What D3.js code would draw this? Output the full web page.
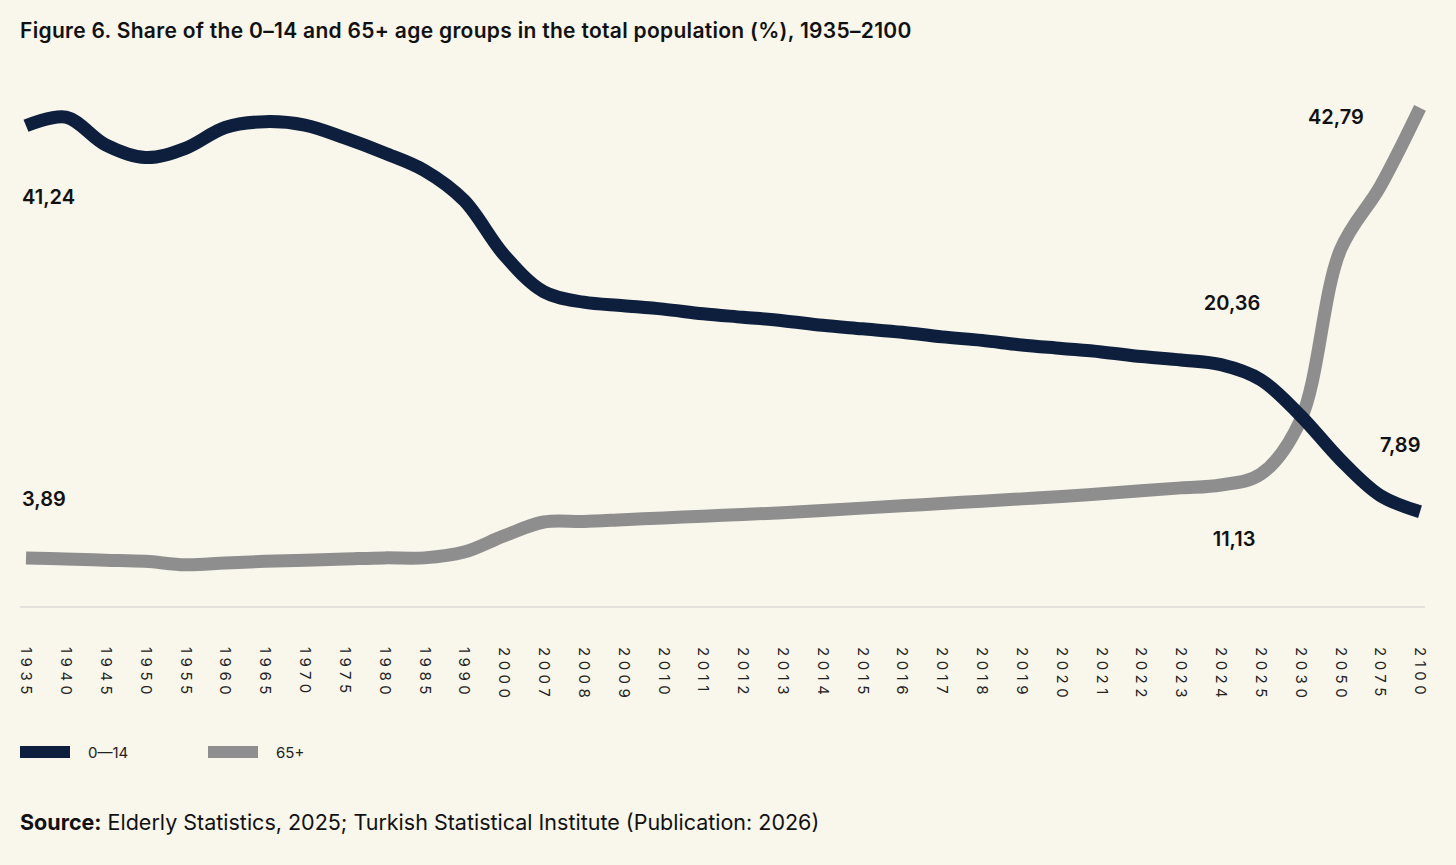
<!DOCTYPE html>
<html>
<head>
<meta charset="utf-8">
<script src="https://cdn.jsdelivr.net/npm/d3@7"></script>
<style>
  body { margin: 0; background: #f9f6ec; font-family: Inter, "Noto Sans", sans-serif; }
</style>
</head>
<body>
<svg id="chart"></svg>
<script>
// Data
var years = ["1935","1940","1945","1950","1955","1960","1965","1970","1975","1980","1985","1990",
  "2000","2007","2008","2009","2010","2011","2012","2013","2014","2015","2016","2017","2018","2019",
  "2020","2021","2022","2023","2024","2025","2030","2050","2075","2100"];
var young = [41.24,42.0,39.6,38.5,39.3,41.1,41.6,41.3,40.2,38.9,37.4,34.8,
  30.1,26.9,26.0,25.7,25.4,25.0,24.7,24.4,24.0,23.7,23.4,23.0,22.7,22.3,
  22.0,21.7,21.3,21.0,20.6,19.3,16.2,12.4,9.3,7.89];
var old = [3.89,3.8,3.7,3.6,3.3,3.45,3.6,3.7,3.8,3.9,3.9,4.4,
  5.8,7.0,7.05,7.2,7.35,7.5,7.65,7.8,8.0,8.2,8.4,8.6,8.8,9.0,
  9.2,9.45,9.7,9.95,10.2,11.13,15.8,30.5,36.0,42.79];
var callouts = [
  {text: "41,24", i: 0, series: "young", dx: -4, dy: 78},
  {text: "3,89", i: 0, series: "old", dx: -4, dy: -52},
  {text: "20,36", i: 30, series: "young", dx: -17, dy: -55},
  {text: "11,13", i: 31, series: "old", dx: -48, dy: 72},
  {text: "42,79", i: 35, series: "old", dx: -112, dy: 16},
  {text: "7,89", i: 35, series: "young", dx: -40, dy: -60}
];

var svgWidth = 1456, svgHeight = 865;
var svg = d3.select("#chart").attr("width", svgWidth).attr("height", svgHeight);
svg.append("rect").attr("width", svgWidth).attr("height", svgHeight).attr("fill", "#f9f6ec");

// Scales
var x = d3.scalePoint().domain(years).range([26, 1420]);
var y = d3.scaleLinear().domain([0, 45]).range([603, 603 - 45 * 11.57]);

// Title
svg.append("text").attr("x", 20).attr("y", 38)
  .style("font-size", "21px").style("font-weight", 600).style("letter-spacing", "0.3px").attr("fill", "#111")
  .text("Figure 6. Share of the 0–14 and 65+ age groups in the total population (%), 1935–2100");

// Baseline
svg.append("line").attr("x1", 20).attr("x2", 1425).attr("y1", 607).attr("y2", 607)
  .attr("stroke", "#cfcccc").attr("stroke-width", 1.2);

// X axis labels (rotated)
var xAxis = d3.axisBottom(x).tickSize(0).tickPadding(0);
var gx = svg.append("g").attr("transform", "translate(0,647)").call(xAxis);
gx.select(".domain").remove();
gx.selectAll("text")
  .attr("transform", "rotate(90)").attr("x", 0).attr("y", 0).attr("dy", "0.35em")
  .style("text-anchor", "start").style("font-size", "15px").style("letter-spacing", "4.5px")
  .style("font-family", "Inter, sans-serif").attr("fill", "#222");

// Lines
var line = d3.line().x((d, i) => x(years[i])).y(d => y(d)).curve(d3.curveCatmullRom.alpha(0.5));
svg.append("path").datum(old).attr("d", line).attr("fill", "none")
  .attr("stroke", "#8e8e8e").attr("stroke-width", 13);
svg.append("path").datum(young).attr("d", line).attr("fill", "none")
  .attr("stroke", "#0d1f3c").attr("stroke-width", 13);

// Callout labels
svg.selectAll(".callout").data(callouts).enter().append("text")
  .attr("class", "callout")
  .attr("x", d => x(years[d.i]) + d.dx)
  .attr("y", d => y(d.series === "young" ? young[d.i] : old[d.i]) + d.dy)
  .style("font-size", "20px").style("font-weight", 600).attr("fill", "#111")
  .text(d => d.text);

// Legend
var legend = [{name: "0—14", color: "#0d1f3c", x: 20}, {name: "65+", color: "#8e8e8e", x: 208}];
var lg = svg.selectAll(".legend").data(legend).enter().append("g")
  .attr("transform", d => `translate(${d.x},746)`);
lg.append("rect").attr("width", 50).attr("height", 12).attr("fill", d => d.color);
lg.append("text").attr("x", 68).attr("y", 12).style("font-size", "15px").attr("fill", "#222")
  .text(d => d.name);

// Source
var src = svg.append("text").attr("x", 20).attr("y", 830).style("font-size", "21.5px").attr("fill", "#111");
src.append("tspan").style("font-weight", 700).text("Source:");
src.append("tspan").text(" Elderly Statistics, 2025; Turkish Statistical Institute (Publication: 2026)");
</script>
</body>
</html>
